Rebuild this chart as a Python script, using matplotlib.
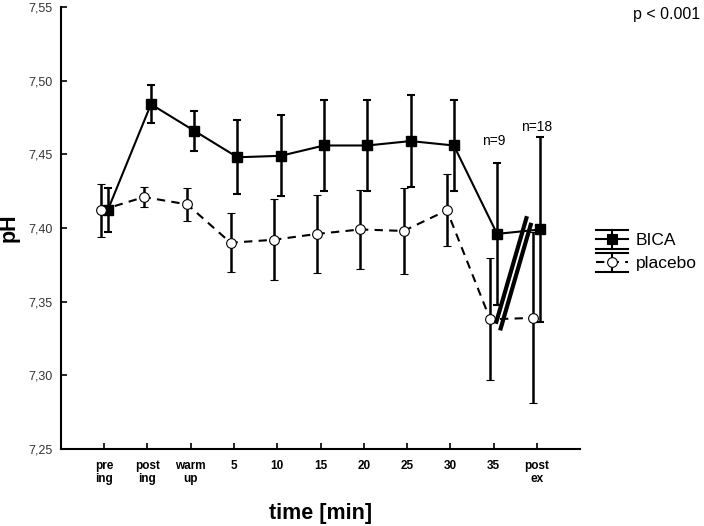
import matplotlib
matplotlib.use("Agg")
import matplotlib.pyplot as plt
import numpy as np
from matplotlib.ticker import FuncFormatter
from matplotlib.legend_handler import HandlerBase
from matplotlib.lines import Line2D

plt.rcParams['font.family'] = ['Liberation Sans', 'DejaVu Sans']

# data
time_labels = ["pre\ning", "post\ning", "warm\nup", "5", "10", "15", "20", "25", "30", "35", "post\nex"]
bica_mean = [7.412, 7.484, 7.466, 7.448, 7.449, 7.456, 7.456, 7.459, 7.456, 7.396, 7.399]
bica_err = [0.015, 0.013, 0.0135, 0.025, 0.0275, 0.031, 0.031, 0.031, 0.031, 0.048, 0.063]
placebo_mean = [7.412, 7.421, 7.416, 7.390, 7.392, 7.396, 7.399, 7.398, 7.412, 7.338, 7.339]
placebo_err = [0.018, 0.007, 0.011, 0.020, 0.0275, 0.0265, 0.027, 0.029, 0.0245, 0.0415, 0.058]
n_labels = ["n=9", "n=18"]

x = np.arange(len(time_labels))
off = 0.08


class ErrLegend(HandlerBase):
    # statistica-like handle: wide caps above and below the marker line
    def __init__(self, ls, mk, mfc):
        super().__init__()
        self.ls, self.mk, self.mfc = ls, mk, mfc

    def create_artists(self, legend, orig_handle, xdescent, ydescent, width, height, fontsize, trans):
        cy = height / 2 - ydescent
        h = height * 0.62
        cx = width / 2 - xdescent
        arts = [
            Line2D([-xdescent, width - xdescent], [cy + h, cy + h], color='black', lw=1.5),
            Line2D([-xdescent, width - xdescent], [cy - h, cy - h], color='black', lw=1.5),
            Line2D([cx, cx], [cy - h, cy + h], color='black', lw=1.5),
            Line2D([-xdescent, width - xdescent], [cy, cy], color='black', lw=1.5,
                   linestyle=self.ls, dashes=(4, 3) if self.ls == '--' else (None, None)),
            Line2D([cx], [cy], marker=self.mk, markersize=7, markerfacecolor=self.mfc,
                   markeredgecolor='black', markeredgewidth=0.8, linestyle='none'),
        ]
        for a in arts:
            a.set_transform(trans)
        return arts


fig = plt.figure(figsize=(7.04, 5.26), dpi=100)
ax = fig.add_axes([0.0866, 0.1464, 0.7375, 0.8403])

eb1 = ax.errorbar(x + off, bica_mean, yerr=bica_err, color='black', linestyle='-', linewidth=1.5,
                  marker='s', markersize=7, markerfacecolor='black', elinewidth=1.8, capsize=3,
                  capthick=1.5, label='BICA', zorder=3)
eb2 = ax.errorbar(x - off, placebo_mean, yerr=placebo_err, color='black', linestyle='--', linewidth=1.5,
                  dashes=(4, 3), marker='o', markersize=7, markerfacecolor='white', markeredgewidth=0.8,
                  elinewidth=1.8, capsize=3, capthick=1.5, label='placebo', zorder=3)

# axis break marks between 35 and post ex
for dx in (0.0, 0.1):
    ax.plot([9.05 + dx, 9.77 + dx], [7.335 - dx * 0.045, 7.408 - dx * 0.045], color='black',
            linewidth=3, solid_capstyle='butt', zorder=4)

ax.text(9, 7.4545, n_labels[0], ha='center', va='bottom', fontsize=10)
ax.text(10, 7.464, n_labels[1], ha='center', va='bottom', fontsize=10)

ax.set_xlim(-1, 11)
ax.set_ylim(7.25, 7.55)
ax.set_xticks(x)
ax.set_xticklabels(time_labels, fontsize=8.5, fontweight='bold', linespacing=1.1)
ax.set_yticks(np.arange(7.25, 7.5501, 0.05))
ax.yaxis.set_major_formatter(FuncFormatter(lambda v, p: f"{v:.2f}".replace('.', ',')))
ax.tick_params(axis='y', labelsize=9, labelcolor='#333333', direction='in', length=4, width=1.2, pad=6)
ax.tick_params(axis='x', direction='in', length=4, width=1.2, pad=8)

ax.spines['top'].set_visible(False)
ax.spines['right'].set_visible(False)
ax.spines['left'].set_linewidth(1.5)
ax.spines['bottom'].set_linewidth(1.5)

ax.set_xlabel("time [min]", fontsize=15.5, fontweight='bold', labelpad=13)
ax.set_ylabel("pH", fontsize=15.5, fontweight='bold', labelpad=6)

ax.legend([eb1, eb2], ['BICA', 'placebo'], loc='center left', bbox_to_anchor=(596 / 704, 0.522),
          bbox_transform=fig.transFigure, borderaxespad=0, borderpad=0,
          frameon=False, fontsize=12.5, handlelength=1.85, handleheight=1.0, handletextpad=0.45,
          labelspacing=0.35,
          handler_map={eb1: ErrLegend('-', 's', 'black'), eb2: ErrLegend('--', 'o', 'white')})

fig.text(0.995, 0.972, "p < 0.001", ha='right', va='center', fontsize=11.5)

fig.savefig("out.png", dpi=100)
